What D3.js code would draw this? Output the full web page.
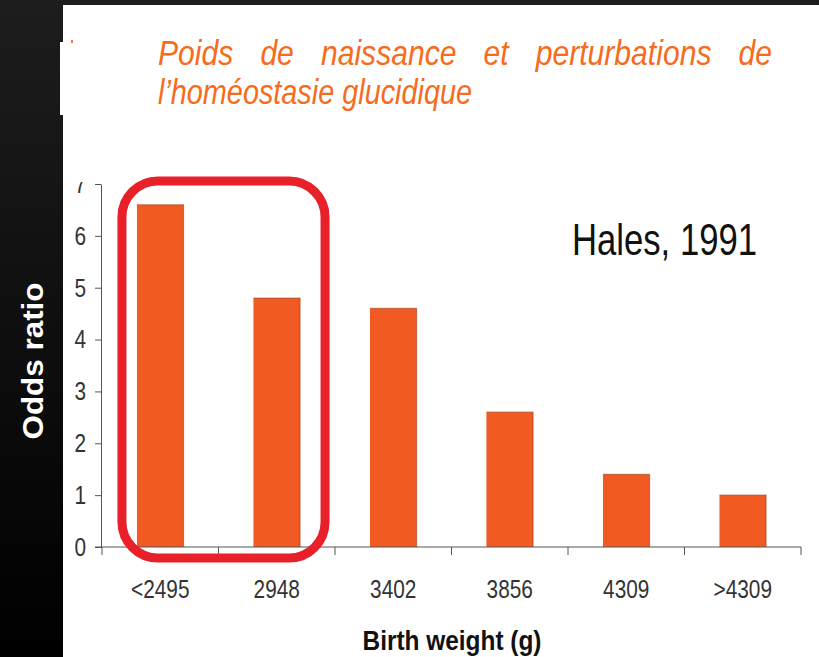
<!DOCTYPE html>
<html>
<head>
<meta charset="utf-8">
<script src="https://cdn.jsdelivr.net/npm/d3@7"></script>
<style>
  html, body { margin: 0; padding: 0; background: #000; }
  svg { display: block; }
  text { font-family: "Liberation Sans", Arial, sans-serif; }
</style>
</head>
<body>
<div id="chart"></div>
<script>
// data
var categories = ["<2495", "2948", "3402", "3856", "4309", ">4309"];
var oddsRatio = [6.6, 4.8, 4.6, 2.6, 1.4, 1.0];
var yTicks = [0, 1, 2, 3, 4, 5, 6, 7];
var titleLine1 = ["Poids", "de", "naissance", "et", "perturbations", "de"];
var titleLine2 = "l\u2019homéostasie glucidique";
var highlighted = ["<2495", "2948"];

var width = 819, height = 657;

var svg = d3.select("#chart").append("svg")
	.attr("width", width)
	.attr("height", height);

// dark slide background, fading to black
var defs = svg.append("defs");
var grad = defs.append("linearGradient")
	.attr("id", "bg").attr("x1", 0).attr("y1", 0).attr("x2", 0).attr("y2", 1);
grad.append("stop").attr("offset", "0%").attr("stop-color", "#1d1d1d");
grad.append("stop").attr("offset", "100%").attr("stop-color", "#000");

svg.append("rect").attr("width", width).attr("height", height).attr("fill", "url(#bg)");

// white picture pasted on the slide
svg.append("rect").attr("x", 63).attr("y", 5).attr("width", width - 63).attr("height", height - 5).attr("fill", "#fff");
svg.append("rect").attr("x", 60).attr("y", 42).attr("width", 4).attr("height", 73).attr("fill", "#fff");
svg.append("rect").attr("x", 71).attr("y", 40).attr("width", 2).attr("height", 3).attr("fill", "#f47a3a");

// squeeze text horizontally (the source looks like a narrow face)
function squeeze(sel, k) {
	sel.each(function() {
		var w = this.getComputedTextLength();
		d3.select(this).attr("textLength", w * k).attr("lengthAdjust", "spacingAndGlyphs");
	});
}

// title, first line justified
var titleColor = "#f76b1c";
var tLeft = 158, tRight = 772;
var words = svg.append("g").selectAll("text")
	.data(titleLine1)
	.enter().append("text")
	.attr("y", 65)
	.attr("font-size", 35)
	.attr("font-style", "italic")
	.attr("fill", titleColor)
	.text(function(d) { return d; });
squeeze(words, 0.86);
var wLens = [];
words.each(function() { wLens.push(+d3.select(this).attr("textLength")); });
var gap = (tRight - tLeft - d3.sum(wLens)) / (wLens.length - 1);
var xPos = tLeft;
words.each(function(d, i) {
	d3.select(this).attr("x", xPos);
	xPos += wLens[i] + gap;
});

svg.append("text")
	.attr("x", tLeft).attr("y", 104)
	.attr("font-size", 35)
	.attr("font-style", "italic")
	.attr("fill", titleColor)
	.attr("textLength", 314).attr("lengthAdjust", "spacingAndGlyphs")
	.text(titleLine2);

// scales
var x = d3.scaleBand()
	.domain(categories)
	.range([102, 801])
	.paddingInner(0.6)
	.paddingOuter(0.3);

var y = d3.scaleLinear()
	.domain([0, 7])
	.range([547, 184]);

var axisColor = "#555";

// bars
var bars = svg.append("g");
bars.selectAll(".bar")
	.data(oddsRatio)
	.enter().append("rect")
	.attr("class", "bar")
	.attr("x", function(d, i) { return x(categories[i]); })
	.attr("y", function(d) { return y(d); })
	.attr("width", x.bandwidth())
	.attr("height", function(d) { return y(0) - y(d); })
	.attr("fill", "#f15a22");
bars.selectAll(".edge")
	.data(oddsRatio)
	.enter().append("path")
	.attr("class", "edge")
	.attr("d", function(d, i) {
		var x0 = x(categories[i]), x1 = x0 + x.bandwidth();
		return "M" + x0 + "," + y(d) + "H" + x1 + "V" + y(0);
	})
	.attr("fill", "none")
	.attr("stroke", "#9b3a16")
	.attr("stroke-opacity", 0.55)
	.attr("stroke-width", 1.2);

// y axis (top label is cut off in the source picture)
defs.append("clipPath").attr("id", "yclip")
	.append("rect").attr("x", -100).attr("y", 182).attr("width", 200).attr("height", 400);

var yAxis = svg.append("g")
	.attr("transform", "translate(101,0)")
	.attr("clip-path", "url(#yclip)")
	.call(d3.axisLeft(y).tickValues(yTicks).tickFormat(d3.format("d")).tickSize(6).tickSizeOuter(0).tickPadding(9));
yAxis.select(".domain").attr("stroke", axisColor);
yAxis.selectAll(".tick line").attr("stroke", axisColor);
yAxis.selectAll(".tick text")
	.attr("font-size", 26)
	.attr("fill", "#333")
	.attr("font-family", "Liberation Sans, Arial, sans-serif");
squeeze(yAxis.selectAll(".tick text"), 0.8);

// x axis: line plus ticks between categories
var xAxis = svg.append("g");
xAxis.append("line")
	.attr("x1", 95).attr("x2", 801)
	.attr("y1", y(0)).attr("y2", y(0))
	.attr("stroke", axisColor);
var bounds = categories.map(function(c) { return x(c) - x.step() * x.paddingInner() / 2; });
bounds.push(x(categories[categories.length - 1]) + x.bandwidth() + x.step() * x.paddingInner() / 2);
xAxis.selectAll(".xt")
	.data(bounds)
	.enter().append("line")
	.attr("class", "xt")
	.attr("x1", function(d) { return d; }).attr("x2", function(d) { return d; })
	.attr("y1", y(0)).attr("y2", y(0) + 8)
	.attr("stroke", axisColor);
var xLabels = xAxis.selectAll(".xl")
	.data(categories)
	.enter().append("text")
	.attr("class", "xl")
	.attr("x", function(d) { return x(d) + x.bandwidth() / 2; })
	.attr("y", 598)
	.attr("text-anchor", "middle")
	.attr("font-size", 26)
	.attr("fill", "#333")
	.text(function(d) { return d; });
squeeze(xLabels, 0.8);

// highlight box round the two lowest weight groups
var hx0 = x(highlighted[0]) - 15;
var hx1 = x(highlighted[highlighted.length - 1]) + x.bandwidth() + 25;
svg.append("rect")
	.attr("x", hx0).attr("y", y(7) - 3)
	.attr("width", hx1 - hx0).attr("height", y(0) + 11 - (y(7) - 3))
	.attr("rx", 36).attr("ry", 36)
	.attr("fill", "none")
	.attr("stroke", "#e8202a")
	.attr("stroke-width", 9);

// source note
svg.append("text")
	.attr("x", 572).attr("y", 255)
	.attr("font-size", 44)
	.attr("fill", "#111")
	.attr("textLength", 185).attr("lengthAdjust", "spacingAndGlyphs")
	.text("Hales, 1991");

// axis titles
svg.append("text")
	.attr("transform", "translate(43,361) rotate(-90)")
	.attr("text-anchor", "middle")
	.attr("font-size", 30)
	.attr("font-weight", "bold")
	.attr("fill", "#fff")
	.attr("textLength", 157).attr("lengthAdjust", "spacingAndGlyphs")
	.text("Odds ratio");

svg.append("text")
	.attr("x", 452).attr("y", 650)
	.attr("text-anchor", "middle")
	.attr("font-size", 28)
	.attr("font-weight", "bold")
	.attr("fill", "#111")
	.attr("textLength", 179).attr("lengthAdjust", "spacingAndGlyphs")
	.text("Birth weight (g)");
</script>
</body>
</html>
